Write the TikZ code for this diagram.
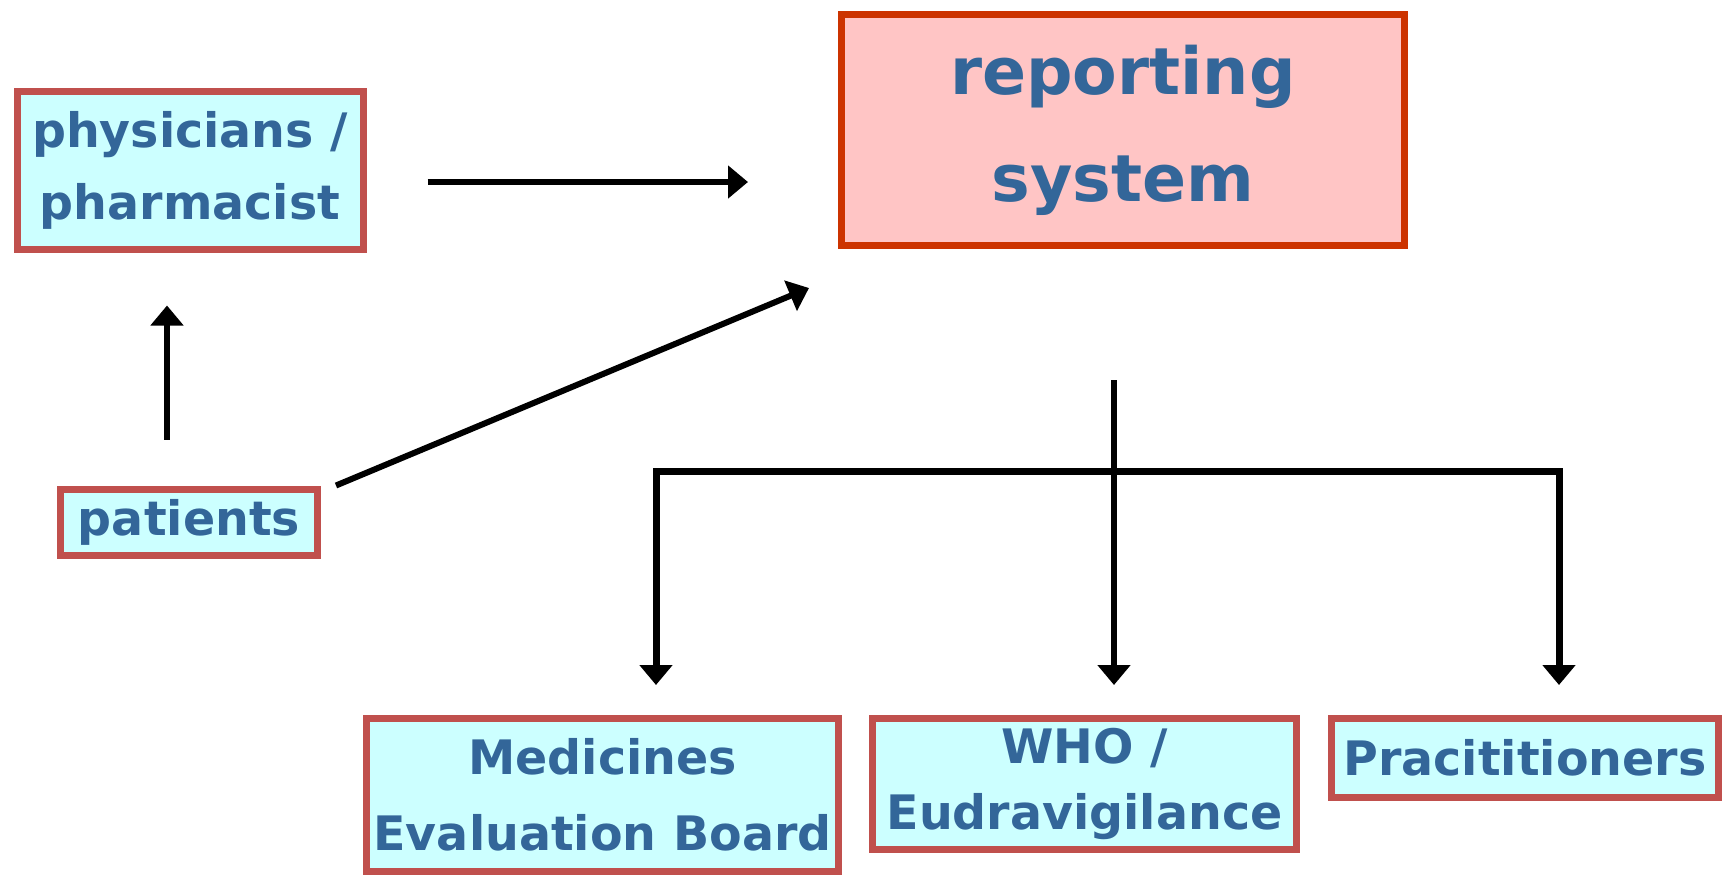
\documentclass[tikz,border=0pt]{standalone}
\usepackage{fontspec}
\setmainfont{DejaVu Sans}
\usepackage{xcolor}
\usepackage{tikz}
\usetikzlibrary{arrows.meta,positioning,calc}
\definecolor{textblue}{RGB}{51,102,153}
\definecolor{boxcyan}{RGB}{204,255,255}
\definecolor{boxred}{RGB}{192,80,77}
\definecolor{reppink}{RGB}{255,197,197}
\definecolor{repborder}{RGB}{204,51,0}
\tikzstyle{actor} = [rectangle, inner sep=0pt, align=center, draw=boxred, line width=3.5pt, fill=boxcyan, text=textblue, font=\bfseries\fontsize{23.75}{36}\selectfont]
\tikzstyle{central} = [rectangle, inner sep=0pt, align=center, draw=repborder, line width=3.5pt, fill=reppink, text=textblue, font=\bfseries\fontsize{32.5}{53.5}\selectfont]
\tikzstyle{arrow} = [line width=3pt, -{Triangle[length=10pt,width=16pt]}]
\tikzstyle{twoway} = [line width=3.5pt, {Triangle[length=10pt,width=16pt]}-{Triangle[length=10pt,width=16pt]}]

\begin{document}
\begin{tikzpicture}[x=0.5pt, y=-0.5pt]
\useasboundingbox (0,0) rectangle (1725,875);

% Sources
\node (phys) [actor, minimum width=173pt, minimum height=79pt] at (190,170) {physicians /\\pharmacist};
\node (patients) [actor, minimum width=128.5pt, minimum height=33pt] at (189,522) {patients};

% Reporting
\node (report) [central, minimum width=281.5pt, minimum height=115.5pt] at (1123,130) {reporting\\system};

% Receivers
\node (meb) [actor, minimum width=236pt, minimum height=76.5pt, font=\bfseries\fontsize{23.75}{38}\selectfont] at (602.5,795) {Medicines\\Evaluation Board};
\node (who) [actor, minimum width=212pt, minimum height=65.5pt, font=\bfseries\fontsize{23.75}{33}\selectfont] at (1084.5,784) {WHO /\\Eudravigilance};
\node (pract) [actor, minimum width=193.5pt, minimum height=39.5pt] at (1525,758) {Pracititioners};

% Relations
\coordinate (pp) at ([yshift=-6pt]phys.east);
\draw [arrow, shorten <=30.5pt, shorten >=45pt] (pp) -- (pp -| report.west);
\coordinate (pu) at ([xshift=-11pt]patients.north);
\draw [arrow, shorten <=23pt, shorten >=26.5pt] (pu) -- (pu |- phys.south);
\draw [arrow] ([xshift=7.5pt]patients.north east) -- ([xshift=-14.5pt,yshift=-19.5pt]report.south west);

% Distribution
\coordinate (stem) at ([xshift=-4.5pt,yshift=-65.5pt]report.south);
\draw [arrow, shorten >=15pt] (stem) -- (stem |- who.north);
\coordinate (barL) at (656,471);
\coordinate (barR) at (1559,471);
\draw [twoway, shorten <=15pt, shorten >=15pt] (barL |- meb.north) -- (barL) -- (barR) -- (barR |- pract.north);

\end{tikzpicture}
\end{document}
